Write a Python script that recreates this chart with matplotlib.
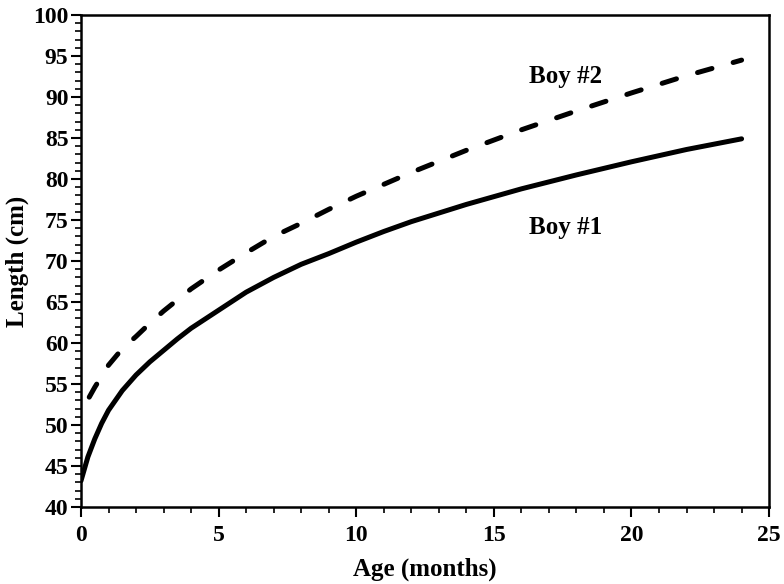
import matplotlib
matplotlib.use("Agg")
import matplotlib.pyplot as plt
from matplotlib.ticker import MultipleLocator

# Data
months_boy1 = [0, 0.25, 0.5, 0.75, 1, 1.5, 2, 2.5, 3, 3.5, 4, 5, 6, 7, 8, 9, 10, 11, 12,
               14, 16, 18, 20, 22, 24]
length_boy1 = [43.2, 46.1, 48.3, 50.2, 51.8, 54.2, 56.1, 57.7, 59.1, 60.5, 61.8, 64.0, 66.2,
               68.0, 69.6, 70.9, 72.3, 73.6, 74.8, 76.9, 78.8, 80.5, 82.1, 83.6, 84.9]
months_boy2 = [0.3, 0.5, 1, 1.5, 2, 2.5, 3, 4, 5, 6, 7, 8, 9, 10, 12, 14, 16, 18, 20, 22, 24]
length_boy2 = [53.4, 54.6, 57.3, 59.3, 60.8, 62.4, 63.9, 66.6, 68.9, 71.0, 73.0, 74.6, 76.3,
               77.9, 80.8, 83.5, 86.0, 88.3, 90.5, 92.6, 94.5]
x_ticks = [0, 5, 10, 15, 20, 25]
y_ticks = [40, 45, 50, 55, 60, 65, 70, 75, 80, 85, 90, 95, 100]

plt.rcParams['font.family'] = ['Liberation Serif', 'DejaVu Serif']
plt.rcParams['font.weight'] = 'bold'

fig = plt.figure(figsize=(7.84, 5.84), dpi=100)
ax = fig.add_axes([0.1033, 0.1318, 0.8777, 0.8425])

ax.plot(months_boy1, length_boy1, color='black', lw=3.6, solid_capstyle='round',
        solid_joinstyle='round')
ax.plot(months_boy2, length_boy2, color='black', lw=3.6, linestyle=(0, (3.0, 4.4)),
        dash_capstyle='round', dash_joinstyle='round')

ax.text(17.6, 92.5, 'Boy #2', fontsize=18, fontweight='bold', ha='center', va='center')
ax.text(17.6, 74.1, 'Boy #1', fontsize=18, fontweight='bold', ha='center', va='center')

ax.set_xlim(0, 25)
ax.set_ylim(40, 100)
ax.set_xticks(x_ticks)
ax.set_yticks(y_ticks)
ax.xaxis.set_minor_locator(MultipleLocator(1))
ax.yaxis.set_minor_locator(MultipleLocator(1))
ax.tick_params(which='major', direction='out', length=7, width=1.5, labelsize=17)
ax.tick_params(axis='x', which='major', pad=6)
ax.tick_params(axis='y', which='major', pad=2)
ax.tick_params(which='minor', direction='out', length=4, width=1.2)
for lab in ax.get_xticklabels() + ax.get_yticklabels():
    lab.set_fontweight('bold')
for s in ax.spines.values():
    s.set_linewidth(1.8)

ax.set_xlabel('Age (months)', fontsize=18, fontweight='bold', labelpad=8)
ax.set_ylabel('Length (cm)', fontsize=18, fontweight='bold', labelpad=3)

fig.savefig('out.png', dpi=100)
